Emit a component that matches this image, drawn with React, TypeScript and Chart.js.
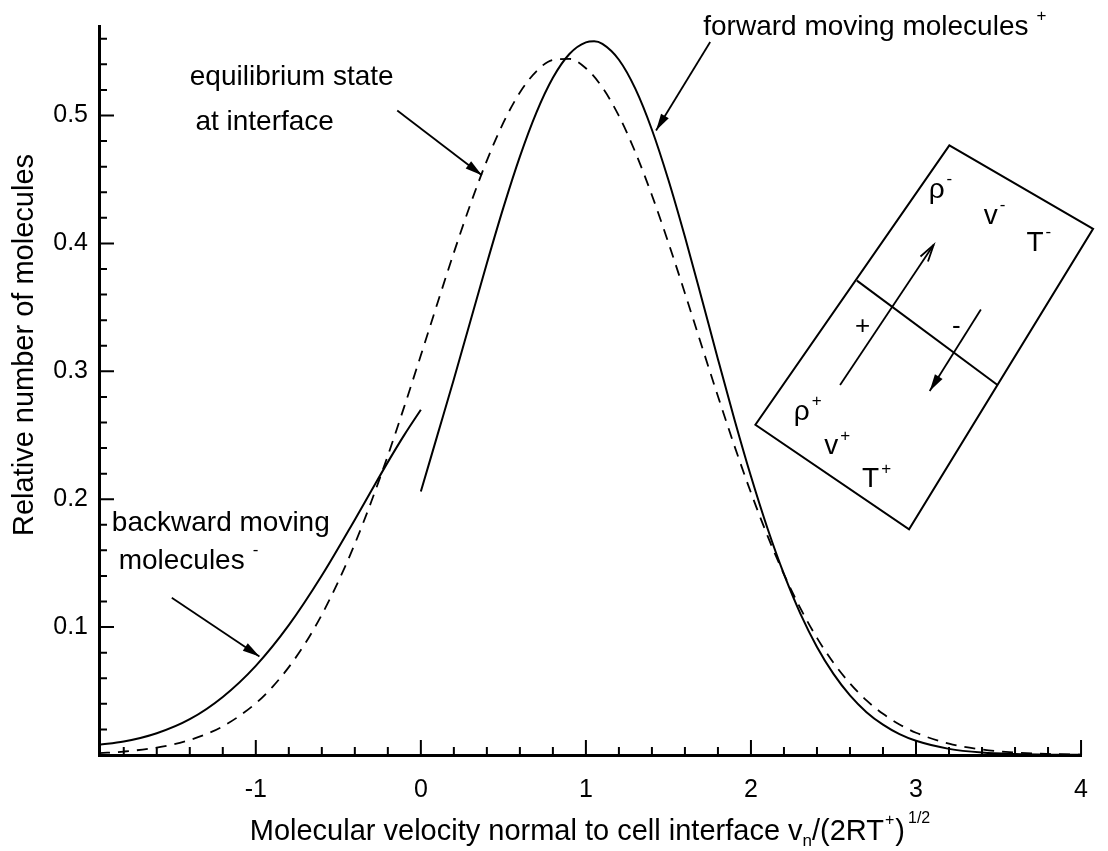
import React, { useEffect, useRef } from "react";
import { Chart, registerables } from "chart.js";

Chart.register(...registerables);

const FONT = '"Liberation Sans", Arial, Helvetica, sans-serif';

// ---- axis ranges ----
const X_MIN = -1.95;
const X_MAX = 4;
const Y_MIN = 0;
const Y_MAX = 0.57;

// ---- data ----
// backward moving molecules (solid, x < 0)
const backwardX = [-1.95, -1.8, -1.6, -1.4, -1.2, -1.0, -0.8, -0.6, -0.4, -0.3, -0.2, -0.1, 0];
const backwardY = [0.008, 0.0105, 0.017, 0.028, 0.0454, 0.0697, 0.1015, 0.1403, 0.184, 0.2066, 0.229, 0.2503, 0.27];

// forward moving molecules (solid, x > 0)
const forwardX = [0, 0.1, 0.2, 0.3, 0.4, 0.5, 0.6, 0.7, 0.8, 0.9, 1.0, 1.05, 1.1, 1.2, 1.3, 1.4, 1.5, 1.6, 1.7, 1.8, 1.9, 2.0, 2.1, 2.2, 2.3, 2.4, 2.5, 2.6, 2.7, 2.8, 2.9, 3.0, 3.2, 3.4, 3.6, 3.8, 4.0];
const forwardY = [0.206, 0.2499, 0.2938, 0.3392, 0.3845, 0.428, 0.4679, 0.5023, 0.5295, 0.5481, 0.5572, 0.558, 0.556, 0.5436, 0.5208, 0.4889, 0.4496, 0.4052, 0.3578, 0.3095, 0.2624, 0.2179, 0.1773, 0.1414, 0.1104, 0.0845, 0.0634, 0.0466, 0.0335, 0.0237, 0.0163, 0.0111, 0.0048, 0.0019, 0.0007, 0.0002, 0.0001];

// equilibrium state at interface (dashed)
const equilibriumX = [-1.95, -1.8, -1.6, -1.4, -1.2, -1.0, -0.9, -0.8, -0.7, -0.6, -0.5, -0.4, -0.3, -0.2, -0.1, 0, 0.1, 0.2, 0.3, 0.4, 0.5, 0.6, 0.7, 0.8, 0.9, 1.0, 1.1, 1.2, 1.3, 1.4, 1.5, 1.6, 1.7, 1.8, 1.9, 2.0, 2.1, 2.2, 2.3, 2.4, 2.5, 2.6, 2.7, 2.8, 2.9, 3.0, 3.2, 3.4, 3.6, 3.8, 4.0];
const equilibriumY = [0.0014, 0.0027, 0.0058, 0.0117, 0.0224, 0.0404, 0.0531, 0.0687, 0.0874, 0.1097, 0.1357, 0.1651, 0.1982, 0.2341, 0.2726, 0.3125, 0.353, 0.3928, 0.4305, 0.4648, 0.4944, 0.518, 0.5346, 0.5435, 0.5443, 0.537, 0.5219, 0.4997, 0.4712, 0.4377, 0.4005, 0.3611, 0.3206, 0.2805, 0.2417, 0.2051, 0.1715, 0.1413, 0.1146, 0.0916, 0.0721, 0.056, 0.0427, 0.0322, 0.0239, 0.0174, 0.0089, 0.0043, 0.0019, 0.0008, 0.0003];

// ---- ticks ----
const xMajorTicks = [-1, 0, 1, 2, 3, 4];
const xTickLabels = ["-1", "0", "1", "2", "3", "4"];
const xMinorTicks = [-1.8, -1.6, -1.4, -1.2, -0.8, -0.6, -0.4, -0.2, 0.2, 0.4, 0.6, 0.8, 1.2, 1.4, 1.6, 1.8, 2.2, 2.4, 2.6, 2.8, 3.2, 3.4, 3.6, 3.8];
const yMajorTicks = [0.1, 0.2, 0.3, 0.4, 0.5];
const yTickLabels = ["0.1", "0.2", "0.3", "0.4", "0.5"];
const yMinorTicks = [0.02, 0.04, 0.06, 0.08, 0.12, 0.14, 0.16, 0.18, 0.22, 0.24, 0.26, 0.28, 0.32, 0.34, 0.36, 0.38, 0.42, 0.44, 0.46, 0.48, 0.52, 0.54, 0.56];

// ---- titles ----
const yTitle = "Relative number of molecules";
const xTitleParts = [
  { t: "Molecular velocity normal to cell interface v", size: 29, dy: 0, gap: 0 },
  { t: "n", size: 17, dy: 9, gap: 0 },
  { t: "/(2RT", size: 29, dy: 0, gap: 0 },
  { t: "+", size: 16, dy: -11, gap: 1 },
  { t: ")", size: 29, dy: 0, gap: 1 },
  { t: "1/2", size: 16, dy: -13, gap: 3 },
];

// ---- annotations (data coordinates) ----
const annotationLabels = [
  { text: "equilibrium state", x: -1.40, y: 0.530, size: 28, sup: "" },
  { text: "at interface", x: -1.366, y: 0.4946, size: 28, sup: "" },
  { text: "forward moving molecules", x: 1.711, y: 0.5692, size: 28, sup: "+" },
  { text: "backward moving", x: -1.872, y: 0.1812, size: 28, sup: "" },
  { text: "molecules", x: -1.831, y: 0.1516, size: 28, sup: "-" },
];
const annotationArrows = [
  { from: [-0.143, 0.5039], to: [0.37, 0.4533], head: "filled" },
  { from: [1.753, 0.5575], to: [1.425, 0.4883], head: "filled" },
  { from: [-1.509, 0.1229], to: [-0.978, 0.077], head: "filled" },
];

// ---- inset cell sketch (data coordinates) ----
const insetBox = [[3.202, 0.4767], [2.027, 0.2582], [2.958, 0.1765], [4.073, 0.4114]];
const insetInterface = [[2.642, 0.3709], [3.494, 0.2893]];
const insetArrows = [
  { from: [2.54, 0.2893], to: [3.107, 0.3989], head: "open" },
  { from: [3.393, 0.3484], to: [3.083, 0.2846], head: "filled" },
];
const insetLabels = [
  { text: "+", x: 2.677, y: 0.3344, size: 26, sup: "" },
  { text: "-", x: 3.244, y: 0.3344, size: 26, sup: "" },
  { text: "ρ", x: 2.308, y: 0.2683, size: 28, sup: "+" },
  { text: "v", x: 2.487, y: 0.2411, size: 28, sup: "+" },
  { text: "T", x: 2.725, y: 0.2154, size: 28, sup: "+" },
  { text: "ρ", x: 3.125, y: 0.4417, size: 28, sup: "-" },
  { text: "v", x: 3.453, y: 0.4215, size: 28, sup: "-" },
  { text: "T", x: 3.721, y: 0.4005, size: 28, sup: "-" },
];

function drawArrow(ctx: CanvasRenderingContext2D, x1: number, y1: number, x2: number, y2: number, head: string) {
  ctx.beginPath();
  ctx.moveTo(x1, y1);
  ctx.lineTo(x2, y2);
  ctx.stroke();
  const ang = Math.atan2(y2 - y1, x2 - x1);
  const len = 17;
  const half = 4.5;
  const bx = x2 - len * Math.cos(ang);
  const by = y2 - len * Math.sin(ang);
  const nx = -Math.sin(ang) * half;
  const ny = Math.cos(ang) * half;
  ctx.beginPath();
  if (head === "filled") {
    ctx.moveTo(x2, y2);
    ctx.lineTo(bx + nx, by + ny);
    ctx.lineTo(bx - nx, by - ny);
    ctx.closePath();
    ctx.fill();
  } else {
    ctx.moveTo(bx + nx, by + ny);
    ctx.lineTo(x2, y2);
    ctx.lineTo(bx - nx, by - ny);
    ctx.stroke();
  }
}

function drawLabel(ctx: CanvasRenderingContext2D, text: string, x: number, y: number, size: number, sup: string, align: "left" | "center") {
  ctx.font = `${size}px ${FONT}`;
  ctx.textBaseline = "middle";
  ctx.textAlign = "left";
  const w = ctx.measureText(text).width;
  const left = align === "center" ? x - w / 2 : x;
  ctx.fillText(text, left, y);
  if (sup) {
    const s = Math.round(size * 0.6);
    ctx.font = `${s}px ${FONT}`;
    ctx.fillText(sup, left + w + (text.length > 2 ? 8 : 2), y - size * 0.38);
  }
}

const decorPlugin = {
  id: "decor",
  afterDraw(chart: any) {
    const ctx: CanvasRenderingContext2D = chart.ctx;
    const xs = chart.scales.x;
    const ys = chart.scales.y;
    const area = chart.chartArea;
    const px = (v: number) => xs.getPixelForValue(v);
    const py = (v: number) => ys.getPixelForValue(v);
    ctx.save();
    ctx.strokeStyle = "#000";
    ctx.fillStyle = "#000";

    // inner tick marks
    ctx.lineWidth = 2;
    ctx.beginPath();
    yMajorTicks.forEach((v) => {
      ctx.moveTo(area.left, py(v));
      ctx.lineTo(area.left + 15, py(v));
    });
    yMinorTicks.forEach((v) => {
      ctx.moveTo(area.left, py(v));
      ctx.lineTo(area.left + 8, py(v));
    });
    xMajorTicks.forEach((v) => {
      ctx.moveTo(px(v), area.bottom);
      ctx.lineTo(px(v), area.bottom - 15);
    });
    xMinorTicks.forEach((v) => {
      ctx.moveTo(px(v), area.bottom);
      ctx.lineTo(px(v), area.bottom - 8);
    });
    ctx.stroke();

    // y title
    ctx.save();
    ctx.translate(25, 345);
    ctx.rotate(-Math.PI / 2);
    ctx.font = `29px ${FONT}`;
    ctx.textAlign = "center";
    ctx.textBaseline = "middle";
    ctx.fillText(yTitle, 0, 0);
    ctx.restore();

    // x title with sub/superscripts
    ctx.textAlign = "left";
    ctx.textBaseline = "middle";
    let total = 0;
    xTitleParts.forEach((p) => {
      ctx.font = `${p.size}px ${FONT}`;
      total += p.gap + ctx.measureText(p.t).width;
    });
    let cx = 590 - total / 2;
    const ty = 832;
    xTitleParts.forEach((p) => {
      ctx.font = `${p.size}px ${FONT}`;
      cx += p.gap;
      ctx.fillText(p.t, cx, ty + p.dy);
      cx += ctx.measureText(p.t).width;
    });

    // annotations
    annotationLabels.forEach((l) => drawLabel(ctx, l.text, px(l.x), py(l.y), l.size, l.sup, "left"));
    ctx.lineWidth = 1.8;
    annotationArrows.forEach((a) => drawArrow(ctx, px(a.from[0]), py(a.from[1]), px(a.to[0]), py(a.to[1]), a.head));

    // inset sketch
    ctx.lineWidth = 2;
    ctx.beginPath();
    insetBox.forEach((p, i) => {
      if (i === 0) ctx.moveTo(px(p[0]), py(p[1]));
      else ctx.lineTo(px(p[0]), py(p[1]));
    });
    ctx.closePath();
    ctx.stroke();
    ctx.beginPath();
    ctx.moveTo(px(insetInterface[0][0]), py(insetInterface[0][1]));
    ctx.lineTo(px(insetInterface[1][0]), py(insetInterface[1][1]));
    ctx.stroke();
    ctx.lineWidth = 1.8;
    insetArrows.forEach((a) => drawArrow(ctx, px(a.from[0]), py(a.from[1]), px(a.to[0]), py(a.to[1]), a.head));
    insetLabels.forEach((l) => drawLabel(ctx, l.text, px(l.x), py(l.y), l.size, l.sup, "center"));

    ctx.restore();
  },
};

export default function App() {
  const ref = useRef<HTMLCanvasElement>(null);
  useEffect(() => {
    const canvas = ref.current;
    if (!canvas) return;
    const toPts = (xs: number[], ys: number[]) => xs.map((x, i) => ({ x, y: ys[i] }));
    const chart = new Chart(canvas, {
      type: "line",
      data: {
        datasets: [
          {
            label: "backward moving molecules",
            data: toPts(backwardX, backwardY),
            borderColor: "#000",
            borderWidth: 2,
            pointRadius: 0,
            cubicInterpolationMode: "monotone",
            fill: false,
          },
          {
            label: "forward moving molecules",
            data: toPts(forwardX, forwardY),
            borderColor: "#000",
            borderWidth: 2,
            pointRadius: 0,
            cubicInterpolationMode: "monotone",
            fill: false,
          },
          {
            label: "equilibrium state at interface",
            data: toPts(equilibriumX, equilibriumY),
            borderColor: "#000",
            borderWidth: 1.8,
            borderDash: [11, 8],
            pointRadius: 0,
            cubicInterpolationMode: "monotone",
            fill: false,
          },
        ],
      },
      options: {
        animation: false,
        responsive: false,
        events: [],
        layout: { padding: { left: 0, right: 11, top: 22, bottom: 0 } },
        plugins: { legend: { display: false }, tooltip: { enabled: false } },
        scales: {
          x: {
            type: "linear",
            min: X_MIN,
            max: X_MAX,
            afterBuildTicks: (s: any) => {
              s.ticks = xMajorTicks.map((v) => ({ value: v }));
            },
            afterFit: (s: any) => {
              s.height = 96;
            },
            grid: { display: false, drawTicks: false },
            border: { display: true, color: "#000", width: 3 },
            ticks: {
              autoSkip: false,
              maxRotation: 0,
              padding: 20,
              color: "#000",
              font: { family: FONT, size: 25 },
              callback: (_v: any, i: number) => xTickLabels[i],
            },
          },
          y: {
            type: "linear",
            min: Y_MIN,
            max: Y_MAX,
            afterBuildTicks: (s: any) => {
              s.ticks = yMajorTicks.map((v) => ({ value: v }));
            },
            afterFit: (s: any) => {
              s.width = 99;
            },
            grid: { display: false, drawTicks: false },
            border: { display: true, color: "#000", width: 3 },
            ticks: {
              autoSkip: false,
              padding: 11,
              color: "#000",
              font: { family: FONT, size: 25 },
              callback: (_v: any, i: number) => yTickLabels[i],
            },
          },
        },
      } as any,
      plugins: [decorPlugin],
    });
    return () => chart.destroy();
  }, []);
  return (
    <div style={{ position: "fixed", left: 0, top: 0, width: 1108, height: 851, background: "#fff" }}>
      <canvas ref={ref} width={1108} height={851} style={{ display: "block" }} />
    </div>
  );
}
